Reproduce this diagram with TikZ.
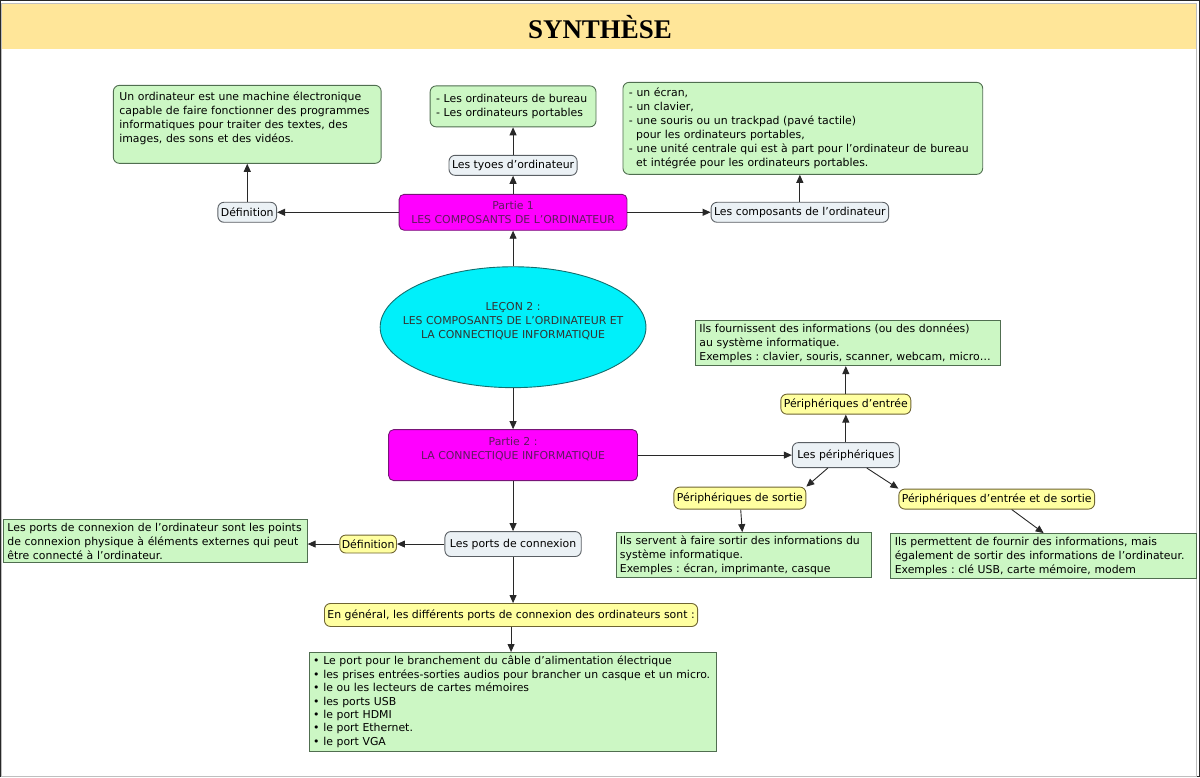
\documentclass[tikz,border=0pt]{standalone}
\usepackage{fontspec}
\setmainfont{DejaVu Sans}
\newfontfamily\titlefont{Liberation Serif}
\usepackage{tikz}
\usetikzlibrary{positioning, arrows.meta, shapes.geometric}

\definecolor{headyellow}{RGB}{255,230,153}
\definecolor{notegreen}{RGB}{204,247,196}
\definecolor{noteedge}{RGB}{80,110,80}
\definecolor{linkgrey}{RGB}{235,241,245}
\definecolor{linkedge}{RGB}{90,95,100}
\definecolor{tagyellow}{RGB}{255,255,160}
\definecolor{tagedge}{RGB}{110,100,50}
\definecolor{partmagenta}{RGB}{255,0,255}
\definecolor{partedge}{RGB}{120,20,120}
\definecolor{parttext}{RGB}{95,25,95}
\definecolor{lessoncyan}{RGB}{0,240,250}
\definecolor{lessonedge}{RGB}{20,110,110}
\definecolor{arrowgrey}{RGB}{40,40,40}

\newcommand{\mapfont}{\fontsize{10.9}{14}\selectfont\frenchspacing}

\begin{document}
\begin{tikzpicture}[x=1pt,y=-1pt,node distance=50pt,on grid,
        >={Triangle[length=8pt,width=7pt]},
        notebox/.style={draw=noteedge,fill=notegreen,rounded corners=6pt,align=left,font=\mapfont,inner ysep=4pt,inner xsep=6pt},
        plainbox/.style={notebox,sharp corners,inner ysep=3pt,inner xsep=4pt},
        linkbox/.style={draw=linkedge,fill=linkgrey,rounded corners=6pt,font=\mapfont,inner sep=3pt,minimum height=20pt},
        tagbox/.style={linkbox,draw=tagedge,fill=tagyellow},
        partbox/.style={draw=partedge,fill=partmagenta,rounded corners=5pt,align=center,text=parttext,font=\mapfont},
        lessonbox/.style={ellipse,draw=lessonedge,fill=lessoncyan,align=center,text=black!80,font=\mapfont,inner xsep=-17pt,inner ysep=0pt},
        every path/.style={draw=arrowgrey,line width=0.9pt}]
        \useasboundingbox (0,0) rectangle (1200,777);
        \fill[headyellow] (2,4) rectangle (1196,48);
        \draw[black!25,line width=1pt] (1,3) rectangle (1197,777);
        \node (title) at (600,27) {\titlefont\bfseries\fontsize{27}{30}\selectfont SYNTHÈSE};

        % lesson and the two parts
        \node[lessonbox,minimum width=266pt,minimum height=121pt] (lesson) at (513,327)
            {LEÇON 2 :\\LES COMPOSANTS DE L’ORDINATEUR ET\\LA CONNECTIQUE INFORMATIQUE\\ \mbox{}};
        \node[partbox,minimum width=228pt,minimum height=36pt] (partie1) [above=115pt of lesson]
            {Partie 1\\LES COMPOSANTS DE L’ORDINATEUR};
        \node[partbox,minimum width=249pt,minimum height=51pt] (partie2) [below=128pt of lesson]
            {Partie 2 :\\LA CONNECTIQUE INFORMATIQUE\\ \mbox{}};

        % partie 1
        \node[linkbox] (def) [left=266pt of partie1] {Définition};
        \node[notebox,text width=256pt,minimum height=78pt] (defbox) [above=88pt of def]
            {Un ordinateur est une machine électronique\\capable de faire fonctionner des programmes\\informatiques pour traiter des textes, des\\images, des sons et des vidéos.\\ \mbox{}};
        \node[linkbox] (types) [above=47pt of partie1] {Les tyoes d'ordinateur};
        \node[notebox,text width=154pt,minimum height=41pt] (typesbox) [above=59pt of types]
            {- Les ordinateurs de bureau\\- Les ordinateurs portables};
        \node[linkbox] (comp) [right=287pt of partie1] {Les composants de l’ordinateur};
        \node[notebox,text width=348pt,minimum height=92pt] (complist) [above right=84pt and 3pt of comp]
            {- un écran,\\- un clavier,\\- une souris ou un trackpad (pavé tactile)\\\ \ pour les ordinateurs portables,\\- une unité centrale qui est à part pour l’ordinateur de bureau\\\ \ et intégrée pour les ordinateurs portables.};

        % partie 2
        \node[linkbox,minimum height=25pt,inner sep=5pt] (periph) [right=333pt of partie2] {Les périphériques};
        \node[tagbox] (entree) [above=51pt of periph] {Périphériques d’entrée};
        \node[plainbox,text width=297pt,minimum height=45pt] (entreedesc) [above right=61pt and 2pt of entree]
            {Ils fournissent des informations (ou des données)\\au système informatique.\\Exemples : clavier, souris, scanner, webcam, micro…};
        \node[tagbox,minimum height=22pt] (sortie) [below left=43pt and 106pt of periph] {Périphériques de sortie};
        \node[plainbox,text width=248pt,minimum height=45pt] (sortiedesc) [below right=57pt and 4pt of sortie]
            {Ils servent à faire sortir des informations du\\système informatique.\\Exemples : écran, imprimante, casque};
        \node[plainbox,text width=298pt,minimum height=45pt] (esdesc) at (1044,556)
            {Ils permettent de fournir des informations, mais\\également de sortir des informations de l'ordinateur.\\Exemples : clé USB, carte mémoire, modem};
        \node[tagbox] (es) [below right=44pt and 151pt of periph] {Périphériques d'entrée et de sortie};

        \node[linkbox,minimum height=25pt,inner sep=5pt] (ports) [below=89pt of partie2] {Les ports de connexion};
        \node[tagbox,minimum height=18pt,inner sep=2pt] (def2) [left=145pt of ports] {Définition};
        \node[plainbox,text width=296pt,minimum height=43pt] (portsdef) [above left=3pt and 213pt of def2]
            {Les ports de connexion de l'ordinateur sont les points\\de connexion physique à éléments externes qui peut\\être connecté à l’ordinateur.};
        \node[tagbox,minimum height=23pt] (general) [below left=71pt and 2pt of ports]
            {En général, les différents ports de connexion des ordinateurs sont :};
        \node[plainbox,text width=400pt,minimum height=99pt,font=\fontsize{10.9}{13.4}\selectfont] (list) [below right=87pt and 2pt of general]
            {• Le port pour le branchement du câble d’alimentation électrique\\• les prises entrées-sorties audios pour brancher un casque et un micro.\\• le ou les lecteurs de cartes mémoires\\• les ports USB\\• le port HDMI\\• le port Ethernet.\\• le port VGA};

        % connectors
        \draw[->] (lesson) -- (partie1);
        \draw[->] (lesson) -- (partie2);
        \draw[->] (partie1) -- (def);
        \draw[->] (def) -- (defbox);
        \draw[->] (partie1) -- (types);
        \draw[->] (types) -- (typesbox);
        \draw[->] (partie1) -- (comp);
        \draw[->] (comp.north) -- (comp.north |- complist.south);
        \draw[->] (partie2) -- (periph);
        \draw[->] (periph) -- (entree);
        \draw[->] (entree.north) -- (entree.north |- entreedesc.south);
        \draw[->] ([xshift=-18pt]periph.south) -- (sortie.north east);
        \draw[->] ([xshift=21pt]periph.south) -- (es.north west);
        \draw[->] (sortie) -- (sortiedesc);
        \draw[->] ([xshift=15pt]es.south) -- (esdesc.north);
        \draw[->] (partie2) -- (ports);
        \draw[->] (ports) -- (def2);
        \draw[->] (def2) -- (def2 -| portsdef.east);
        \draw[->] (ports) -- (ports |- general.north);
        \draw[->] (general) -- (general |- list.north);
\end{tikzpicture}
\end{document}
